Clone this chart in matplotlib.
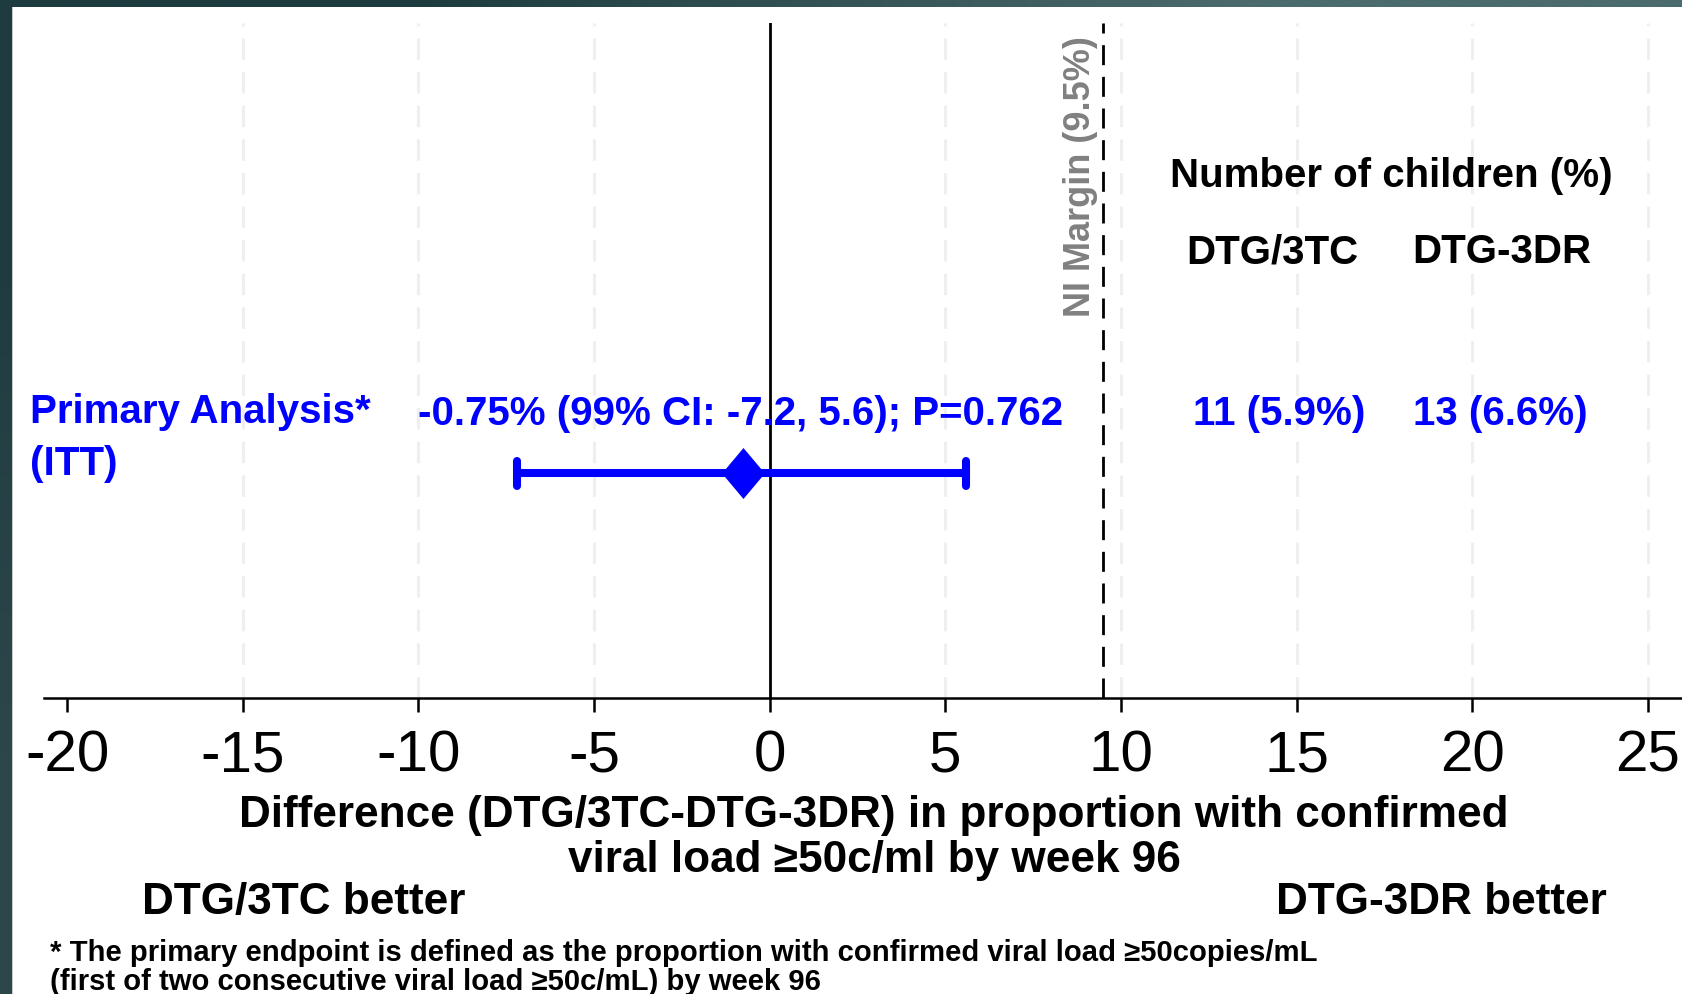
import matplotlib
matplotlib.use("Agg")
import matplotlib.pyplot as plt
import matplotlib.patches as mpatches
from matplotlib.path import Path
from matplotlib.markers import MarkerStyle
import numpy as np

plt.rcParams['font.family'] = ['Liberation Sans', 'DejaVu Sans']

# ── Data ──
row_labels = ["Primary Analysis*", "(ITT)"]
estimate = [-0.75]
ci_lower = [-7.2]
ci_upper = [5.6]
p_values = [0.762]
n_dtg3tc = [11]
pct_dtg3tc = [5.9]
n_dtg3dr = [13]
pct_dtg3dr = [6.6]
arm_names = ["DTG/3TC", "DTG-3DR"]
ni_margin = 9.5
xticks = [-20, -15, -10, -5, 0, 5, 10, 15, 20, 25]

# ── Canvas (pixel layout of the slide) ──
W, H = 1683, 994
fig = plt.figure(figsize=(W / 100, H / 100), dpi=100)

def fx(px):
    return px / W

def fy(py):
    return 1 - py / H

# dark slide frame with soft gradient
bg = fig.add_axes([0, 0, 1, 1])
bg.axis('off')
c_tl = np.array([0x1e, 0x3c, 0x40]) / 255
c_tr = np.array([0x4b, 0x6b, 0x6e]) / 255
c_bl = np.array([0x2c, 0x47, 0x4a]) / 255
grad = np.zeros((2, 2, 3))
grad[1, 0] = c_tl
grad[1, 1] = c_tr
grad[0, 0] = c_bl
grad[0, 1] = c_tr
bg.imshow(grad, extent=[0, 1, 0, 1], aspect='auto', interpolation='bilinear', origin='lower')
bg.set_xlim(0, 1)
bg.set_ylim(0, 1)
bg.add_patch(mpatches.Rectangle((fx(12), 0), 1 - fx(12), fy(7), facecolor='white',
                                edgecolor='none', transform=bg.transAxes))
bg.add_patch(mpatches.Rectangle((fx(12), 0), 1 / W, fy(7), facecolor='#c8c8c8',
                                edgecolor='none', transform=bg.transAxes))

# ── Forest plot axes ──
ax = fig.add_axes([fx(44), fy(698), 1 - fx(44), (698 - 23) / H])
ax.set_facecolor('none')
ax.set_xlim(-20.66, 26.0)
ax.set_ylim(0, 1)
row_y = [0.333]

ax.set_xticks(xticks)
ax.set_xticklabels([str(t) for t in xticks], fontsize=42)
ax.tick_params(axis='x', length=10, width=1.8, pad=13, color='black')
ax.set_yticks([])
for s in ['left', 'top', 'right']:
    ax.spines[s].set_visible(False)
ax.spines['bottom'].set_linewidth(1.8)

ax.grid(axis='x', color='#efefef', linewidth=2.2, linestyle=(0, (7, 4)), zorder=0)
ax.set_axisbelow(True)
ax.xaxis.get_gridlines()[0].set_visible(False)  # no grid line at the left-most tick

ax.axvline(0, color='black', linewidth=2, zorder=2)
ax.axvline(ni_margin, color='black', linewidth=2, linestyle=(0, (7.2, 4.2)), zorder=2)

# CI bar + point estimate
xerr = [[e - l for e, l in zip(estimate, ci_lower)], [u - e for e, u in zip(estimate, ci_upper)]]
_, caps, _ = ax.errorbar(estimate, row_y, xerr=xerr, fmt='none', ecolor='blue',
                         elinewidth=5.8, capsize=9, capthick=5.8, zorder=3)
for cap in caps:
    cap.set_marker(MarkerStyle('|', capstyle='round'))
diamond = Path([(0, 0.5), (0.42, 0), (0, -0.5), (-0.42, 0), (0, 0.5)],
               [Path.MOVETO, Path.LINETO, Path.LINETO, Path.LINETO, Path.CLOSEPOLY])
ax.plot(estimate, row_y, linestyle='none', marker=diamond, markersize=36.7,
        color='blue', markeredgewidth=0, zorder=4)

# ── Texts inside panel ──
blue = '#0000ff'
for e, l, u, p in zip(estimate, ci_lower, ci_upper, p_values):
    ax.text(-0.82, 0.404, f"{e:.2f}% (99% CI: {l:.1f}, {u:.1f}); P={p:.3f}",
            ha='center', va='baseline', fontsize=29, fontweight='bold', color=blue)
for n1, p1, n2, p2 in zip(n_dtg3tc, pct_dtg3tc, n_dtg3dr, pct_dtg3dr):
    ax.text(14.50, 0.404, f"{n1} ({p1:.1f}%)", ha='center', va='baseline',
            fontsize=29, fontweight='bold', color=blue)
    ax.text(20.79, 0.404, f"{n2} ({p2:.1f}%)", ha='center', va='baseline',
            fontsize=29, fontweight='bold', color=blue)

ax.text(17.71, 0.757, "Number of children (%)", ha='center', va='baseline',
        fontsize=29, fontweight='bold', color='black')
ax.text(14.31, 0.644, arm_names[0], ha='center', va='baseline',
        fontsize=29, fontweight='bold', color='black')
ax.text(20.85, 0.644, arm_names[1], ha='center', va='baseline',
        fontsize=29, fontweight='bold', color='black')

ax.text(9.345, 0.772, f"NI Margin ({ni_margin}%)", rotation=90, ha='right', va='center',
        fontsize=26, fontweight='bold', color='#808080')

# ── Texts outside panel ──
fig.text(fx(30), fy(423), row_labels[0], ha='left', va='baseline',
         fontsize=29, fontweight='bold', color=blue)
fig.text(fx(30), fy(475), row_labels[1], ha='left', va='baseline',
         fontsize=29, fontweight='bold', color=blue)

fig.text(fx(874), fy(827), "Difference (DTG/3TC-DTG-3DR) in proportion with confirmed",
         ha='center', va='baseline', fontsize=31.8, fontweight='bold')
fig.text(fx(874), fy(872), "viral load \u226550c/ml by week 96",
         ha='center', va='baseline', fontsize=31.8, fontweight='bold')

fig.text(fx(304), fy(914), "DTG/3TC better", ha='center', va='baseline',
         fontsize=31.8, fontweight='bold')
fig.text(fx(1441), fy(914), "DTG-3DR better", ha='center', va='baseline',
         fontsize=31.8, fontweight='bold')

fig.text(fx(50), fy(961),
         "* The primary endpoint is defined as the proportion with confirmed viral load \u226550copies/mL",
         ha='left', va='baseline', fontsize=21.1, fontweight='bold')
fig.text(fx(50), fy(990), "(first of two consecutive viral load \u226550c/mL) by week 96",
         ha='left', va='baseline', fontsize=21.1, fontweight='bold')

fig.savefig('out.png', dpi=100)
